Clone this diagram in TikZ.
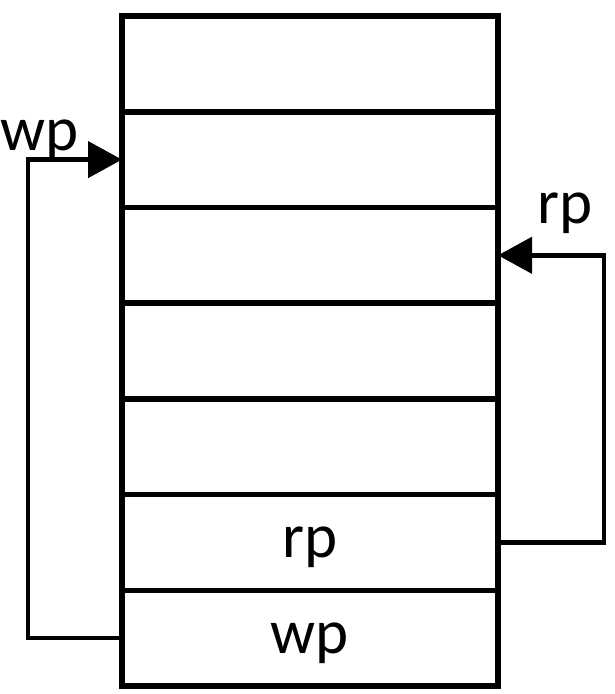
\documentclass[tikz,border=0pt]{standalone}
\usepackage{fontspec}
\setmainfont{Carlito}
\usepackage{tikz}
\usetikzlibrary{arrows.meta,positioning}

\begin{document}
\begin{tikzpicture}[
  x=1pt, y=-1pt,
  node distance=0pt,
  cell/.style={draw, line width=5.5pt, outer sep=0pt, minimum width=376pt,
               minimum height=95.7pt, text depth=0pt,
               font=\fontsize{63}{75}\selectfont},
  tag/.style={anchor=base, inner sep=0pt, font=\fontsize{63}{75}\selectfont},
  arr/.style={-{Triangle[length=34pt,width=36pt]}, line width=4.5pt}
]
\useasboundingbox (0,0) rectangle (614,694);
\node[cell] (cell1) at (310,63.9) {};
\node[cell, below=of cell1] (cell2) {};
\node[cell, below=of cell2] (cell3) {};
\node[cell, below=of cell3] (cell4) {};
\node[cell, below=of cell4] (cell5) {};
\node[cell, below=of cell5] (cell6) {rp};
\node[cell, below=of cell6] (cell7) {wp};
% write pointer loop
\draw[arr] (cell7.west) -- ++(-94,0) |- (cell2.west);
\node[tag] (wptag) at (40,150) {wp};
% read pointer loop
\draw[arr] (cell6.east) -- ++(106,0) |- (cell3.east);
\node[tag] (rptag) at (565,223) {rp};
\end{tikzpicture}
\end{document}
